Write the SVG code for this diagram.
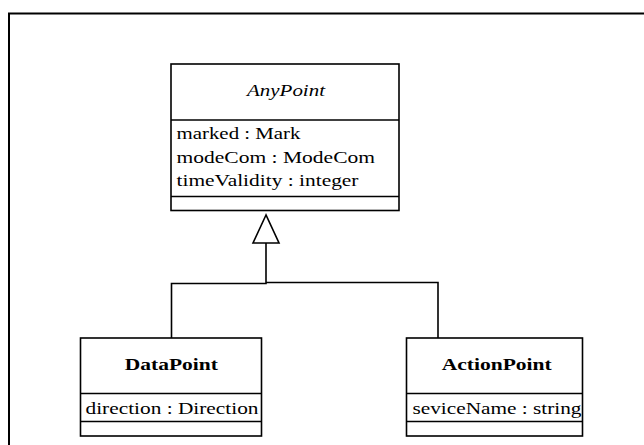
<svg xmlns="http://www.w3.org/2000/svg" width="644" height="445" viewBox="0 0 644 445">
<style>
.box{fill:#fff;stroke:#000;stroke-width:1.6}
.sep{stroke:#000;stroke-width:1.6;fill:none}
.t{font-family:"Liberation Serif","Times New Roman",serif;font-size:17px;fill:#000}
.name{font-weight:bold;text-anchor:middle}
.abs{font-style:italic;text-anchor:middle}
.conn{stroke:#000;stroke-width:1.6;fill:none}
.tri{fill:#fff;stroke:#000;stroke-width:1.6}
</style>
<rect x="9" y="13.5" width="660" height="460" fill="#fff" stroke="#000" stroke-width="2"/>
<g id="AnyPoint">
<rect class="box" x="171" y="64" width="228" height="146.5"/>
<line class="sep" x1="171" y1="120" x2="399" y2="120"/>
<line class="sep" x1="171" y1="196.5" x2="399" y2="196.5"/>
<text class="t abs" x="286" y="96" textLength="78" lengthAdjust="spacingAndGlyphs">AnyPoint</text>
<text class="t" x="176.5" y="139" textLength="124" lengthAdjust="spacingAndGlyphs">marked : Mark</text>
<text class="t" x="176.5" y="162.5" textLength="198.5" lengthAdjust="spacingAndGlyphs">modeCom : ModeCom</text>
<text class="t" x="176.5" y="186" textLength="182" lengthAdjust="spacingAndGlyphs">timeValidity : integer</text>
</g>
<g id="DataPoint">
<rect class="box" x="80.5" y="338" width="181" height="98"/>
<line class="sep" x1="80.5" y1="393.5" x2="261.5" y2="393.5"/>
<line class="sep" x1="80.5" y1="421.5" x2="261.5" y2="421.5"/>
<text class="t name" x="171.3" y="370" textLength="93" lengthAdjust="spacingAndGlyphs">DataPoint</text>
<text class="t" x="85.5" y="414" textLength="173" lengthAdjust="spacingAndGlyphs">direction : Direction</text>
</g>
<g id="ActionPoint">
<rect class="box" x="406.5" y="338" width="176" height="98"/>
<line class="sep" x1="406.5" y1="393.5" x2="582.5" y2="393.5"/>
<line class="sep" x1="406.5" y1="421.5" x2="582.5" y2="421.5"/>
<text class="t name" x="496.7" y="370" textLength="110" lengthAdjust="spacingAndGlyphs">ActionPoint</text>
<text class="t" x="412.5" y="414" textLength="169" lengthAdjust="spacingAndGlyphs">seviceName : string</text>
</g>
<g id="connectors">
<path class="conn" d="M171.5,338 V283.5 H266 V243"/>
<path class="conn" d="M438,338 V282.5 H266"/>
<polygon class="tri" points="266,215 253,243 279,243"/>
</g>
</svg>
